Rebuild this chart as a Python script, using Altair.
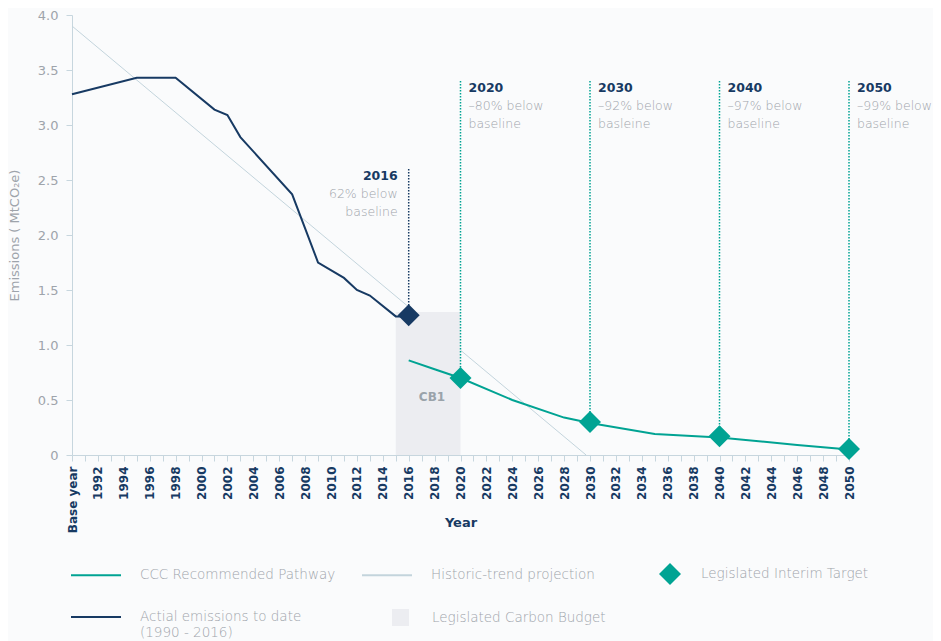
import altair as alt
import pandas as pd

# ---------------- data ----------------
actual_years = [1990, 1995, 1998, 2001, 2002, 2003, 2007, 2008, 2009, 2011, 2012, 2013, 2015, 2016]
actual_vals = [3.28, 3.43, 3.43, 3.14, 3.09, 2.89, 2.37, 2.06, 1.75, 1.61, 1.50, 1.45, 1.26, 1.26]

ccc_years = [2016, 2018, 2020, 2024, 2028, 2030, 2035, 2040, 2046, 2050]
ccc_vals = [0.86, 0.78, 0.70, 0.50, 0.34, 0.29, 0.19, 0.16, 0.09, 0.05]

hist_years = [1990, 2029.7]
hist_vals = [3.9, 0.0]

target_years = [2020, 2030, 2040, 2050]
target_vals = [0.70, 0.30, 0.17, 0.055]

current_years = [2016]
current_vals = [1.27]

ann_years = [2016, 2020, 2030, 2040, 2050]
ann_tops = [2.6, 3.4, 3.4, 3.4, 3.4]
ann_bottoms = [1.27, 0.70, 0.30, 0.17, 0.055]
ann_titles = ["2016", "2020", "2030", "2040", "2050"]
ann_lines = [["62% below", "baseline"], ["–80% below", "baseline"], ["–92% below", "basleine"],
             ["–97% below", "baseline"], ["–99% below", "baseline"]]
ann_kind = ["current", "target", "target", "target", "target"]

budget_start = [2015]
budget_end = [2020]
budget_top = [1.3]
budget_mid_year = [2017.8]
budget_label_val = [0.53]
budget_label = ["CB1"]

x_tick_years = list(range(1990, 2051))
y_ticks = [0, 0.5, 1.0, 1.5, 2.0, 2.5, 3.0, 3.5, 4.0]

S_CCC = "CCC Recommended Pathway"
S_HIST = "Historic-trend projection"
S_ACT = "Actial emissions to date (1990 - 2016)"
series_domain = [S_CCC, S_HIST, S_ACT]

TEAL = "#00a393"
NAVY = "#173a63"
HIST = "#c3d4dc"
BUDGET = "#ecedf1"
GREY = "#9ea4ab"
AXIS = "#c7d6de"
FONT = "DejaVu Sans"

# ---------------- frames ----------------
df_act = pd.DataFrame({"year": actual_years, "value": actual_vals, "series": S_ACT})
df_ccc = pd.DataFrame({"year": ccc_years, "value": ccc_vals, "series": S_CCC})
df_hist = pd.DataFrame({"year": hist_years, "value": hist_vals, "series": S_HIST})
df_targets = pd.DataFrame({"year": target_years, "value": target_vals, "kind": "Legislated Interim Target"})
df_current = pd.DataFrame({"year": current_years, "value": current_vals})
df_ann = pd.DataFrame({"year": ann_years, "top": ann_tops, "bottom": ann_bottoms,
                       "title": ann_titles, "sub": ann_lines, "kind": ann_kind})
df_budget = pd.DataFrame({"start": budget_start, "end": budget_end, "top": budget_top,
                          "mid": budget_mid_year, "lv": budget_label_val, "label": budget_label,
                          "kind": "Legislated Carbon Budget"})

x_scale = alt.Scale(domain=[1990, 2050], nice=False, zero=False)
y_scale = alt.Scale(domain=[0, 4], nice=False)

x_axis = alt.Axis(
    values=x_tick_years,
    labelExpr="datum.value == 1990 ? 'Base year' : (datum.value % 2 == 0 ? toString(datum.value) : '')",
    labelAngle=-90, labelFont=FONT, labelFontWeight="bold", labelFontSize=12, labelColor=NAVY,
    labelPadding=5, labelOverlap=False, labelFlush=False, labelBound=False,
    tickSize=6, tickColor=AXIS, domainColor=AXIS, grid=False,
    title="Year", titleFont=FONT, titleFontSize=13, titleFontWeight="bold", titleColor=NAVY,
    titleBaseline="middle", titleY=67,
)
y_axis = alt.Axis(
    values=y_ticks,
    labelExpr="datum.value == 0 ? '0' : format(datum.value, '.1f')",
    labelFont=FONT, labelFontSize=13, labelColor=GREY, labelPadding=8, labelOverlap=False,
    tickSize=6, tickColor=AXIS, domainColor=AXIS, grid=False,
    title="Emissions ( MtCO₂e)", titleFont=FONT, titleFontSize=13, titleFontWeight="normal",
    titleColor=GREY, titleBaseline="middle", titleX=-58,
)


def XQ(field):
    return alt.X(f"{field}:Q", scale=x_scale, axis=x_axis)


def YQ(field):
    return alt.Y(f"{field}:Q", scale=y_scale, axis=y_axis)


LEG = dict(title=None, padding=0, labelFont=FONT, labelFontSize=13.5, labelColor=GREY,
           labelFontWeight=300, labelLimit=400, orient="none")

stroke_enc = alt.Stroke(
    "series:N",
    scale=alt.Scale(domain=series_domain, range=[TEAL, HIST, NAVY]),
    legend=alt.Legend(
        legendX=-2, legendY=534, columns=2, direction="horizontal",
        symbolType="stroke", symbolSize=2500, symbolStrokeWidth=2,
        labelOffset=18, columnPadding=22, rowPadding=9,
        labelExpr=f"datum.label == '{S_ACT}' ? ['Actial emissions to date', '(1990 - 2016)'] : datum.label",
        **LEG,
    ),
)

hist_line = alt.Chart(df_hist).mark_line(strokeWidth=1).encode(x=XQ("year"), y=YQ("value"), stroke=stroke_enc)

budget_rect = alt.Chart(df_budget).mark_rect().encode(
    x=XQ("start"), x2="end:Q", y=YQ("top"), y2=alt.datum(0),
    fill=alt.Fill("kind:N", scale=alt.Scale(domain=["Legislated Carbon Budget"], range=[BUDGET]),
                  legend=alt.Legend(legendX=320, legendY=594, symbolType="square", symbolSize=289,
                                    symbolStrokeWidth=0, labelOffset=23, **LEG)),
)

budget_text = alt.Chart(df_budget).mark_text(font=FONT, fontSize=12, fontWeight="bold", color="#9aa3aa").encode(
    x=XQ("mid"), y=YQ("lv"), text="label:N")

lines = alt.Chart(pd.concat([df_ccc, df_act])).mark_line(strokeWidth=2).encode(
    x=XQ("year"), y=YQ("value"), stroke=stroke_enc, detail="series:N")

rule_cur = alt.Chart(df_ann[df_ann.kind == "current"]).mark_rule(
    color=NAVY, strokeWidth=1.5, strokeDash=[1.5, 1.5]).encode(
    x=XQ("year"), y=YQ("top"), y2="bottom:Q")
rule_tgt = alt.Chart(df_ann[df_ann.kind == "target"]).mark_rule(
    color=TEAL, strokeWidth=1.5, strokeDash=[1.5, 1.5]).encode(
    x=XQ("year"), y=YQ("top"), y2="bottom:Q")

cur_point = alt.Chart(df_current).mark_point(
    shape="diamond", filled=True, size=484, color=NAVY, opacity=1).encode(x=XQ("year"), y=YQ("value"))

tgt_points = alt.Chart(df_targets).mark_point(
    filled=True, size=484, color=TEAL, opacity=1).encode(
    x=XQ("year"), y=YQ("value"),
    shape=alt.Shape("kind:N", scale=alt.Scale(domain=["Legislated Interim Target"], range=["diamond"]),
                    legend=alt.Legend(legendX=587, legendY=548, symbolSize=484, symbolFillColor=TEAL,
                                      symbolStrokeWidth=0, symbolOpacity=1, labelOffset=20, **LEG)),
)


def ann_layers(kind, align, dx):
    d = df_ann[df_ann.kind == kind]
    t = alt.Chart(d).mark_text(font=FONT, fontSize=12.5, fontWeight="bold", color=NAVY,
                               align=align, baseline="middle", dx=dx, dy=7).encode(
        x=XQ("year"), y=YQ("top"), text="title:N")
    s = alt.Chart(d).mark_text(font=FONT, fontSize=12.5, fontWeight=300, color=GREY,
                               align=align, baseline="top", dx=dx, dy=19, lineHeight=18).encode(
        x=XQ("year"), y=YQ("top"), text="sub")
    return [t, s]


chart = alt.layer(
    hist_line, budget_rect, budget_text, lines, rule_cur, rule_tgt, cur_point, tgt_points,
    *ann_layers("current", "right", -11), *ann_layers("target", "left", 8),
).resolve_scale(x="shared", y="shared").properties(
    width=777, height=440,
    autosize=alt.AutoSizeParams(type="none"),
    padding={"left": 64, "top": 7, "right": 84, "bottom": 186},
    background="#fafbfc",
).configure(font=FONT).configure_view(stroke=None)

chart.save("out.html", embed_options={"renderer": "svg", "actions": False})
